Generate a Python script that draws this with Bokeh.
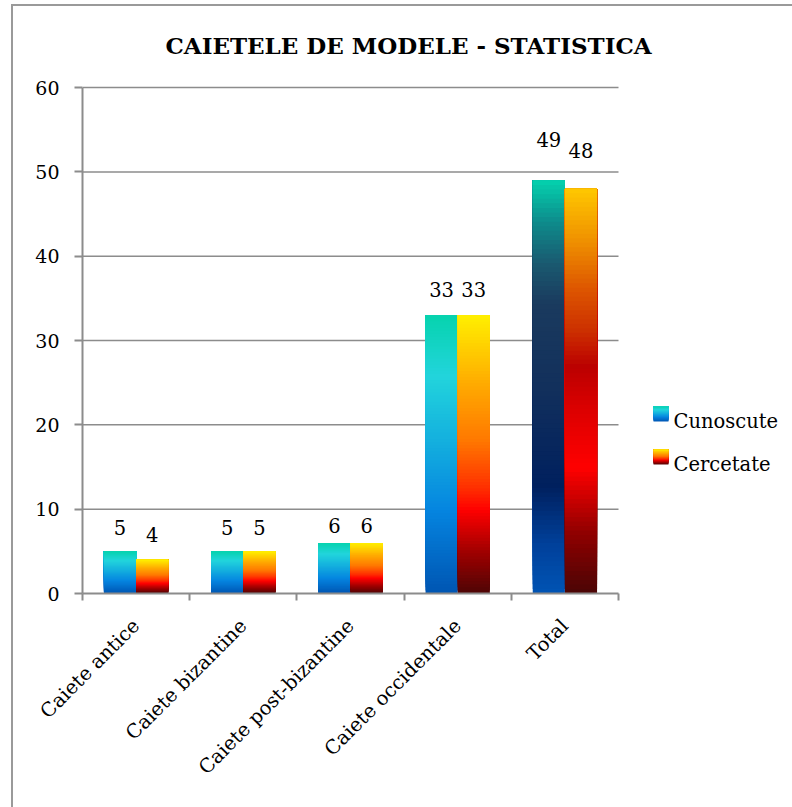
import math
from bokeh.plotting import figure
from bokeh.models import Range1d, FixedTicker, ColumnDataSource
from bokeh.embed import file_html
from bokeh.resources import INLINE
from bokeh.core.properties import value

# ---------------- data ----------------
categories = ["Caiete antice", "Caiete bizantine", "Caiete post-bizantine",
              "Caiete occidentale", "Total"]
cunoscute = [5, 5, 6, 33, 49]
cercetate = [4, 5, 6, 33, 48]
series_names = ["Cunoscute", "Cercetate"]
y_ticks = [0, 10, 20, 30, 40, 50, 60]
title_text = "CAIETELE DE MODELE - STATISTICA"

# ---------------- styles ----------------
FONT = "DejaVu Serif"
AXIS_COLOR = "#8c8c8c"
GRAD_CUN = [(0.0, "#0055b2"), (0.3, "#0585e0"), (0.55, "#14b0de"),
            (0.78, "#22d4dc"), (1.0, "#06d3ae")]
GRAD_CUN_TOTAL = [(0.0, "#0054b4"), (0.12, "#00409a"), (0.26, "#00205e"),
                  (0.5, "#12305c"), (0.7, "#1a3a5e"), (0.8, "#1a5a70"),
                  (0.9, "#0d8c8c"), (1.0, "#04d2ae")]
GRAD_CER = [(0.0, "#4e0505"), (0.15, "#a00000"), (0.3, "#ff0000"),
            (0.38, "#ff3000"), (0.55, "#ff7800"), (0.75, "#ffaa00"),
            (1.0, "#fff000")]
GRAD_CER_TOTAL = [(0.0, "#4a0505"), (0.15, "#900000"), (0.31, "#ff0000"),
                  (0.45, "#dd0000"), (0.56, "#bb0000"), (0.65, "#cc3000"),
                  (0.75, "#dd5500"), (0.87, "#ef9000"), (1.0, "#ffc800")]
cun_grads = [GRAD_CUN] * 4 + [GRAD_CUN_TOTAL]
cer_grads = [GRAD_CER] * 4 + [GRAD_CER_TOTAL]
cun_label_gap = [24, 24, 17, 26, 41]   # px offset of label above bar top
cer_label_gap = [25, 24, 17, 26, 38]

# ---------------- layout (px) ----------------
W, H = 792, 807
B_LEFT, B_RIGHT, B_TOP, B_BOTTOM = 82, 2, 85, 214
FRAME_W = W - B_LEFT - B_RIGHT
FRAME_H = H - B_TOP - B_BOTTOM
CAT_PX = 107.2
Y_MAX = 60.25
X_MAX = FRAME_W / CAT_PX
PX_PER_Y = FRAME_H / Y_MAX


def hex_rgb(h):
    h = h.lstrip("#")
    return tuple(int(h[i:i + 2], 16) for i in (0, 2, 4))


def grad_color(stops, f):
    for (f0, c0), (f1, c1) in zip(stops[:-1], stops[1:]):
        if f0 <= f <= f1:
            t = 0 if f1 == f0 else (f - f0) / (f1 - f0)
            a, b = hex_rgb(c0), hex_rgb(c1)
            return "#%02x%02x%02x" % tuple(round(a[k] + (b[k] - a[k]) * t) for k in range(3))
    return stops[-1][1]


p = figure(width=W, height=H, output_backend="svg", toolbar_location=None,
           x_range=Range1d(0, X_MAX), y_range=Range1d(0, Y_MAX),
           min_border_left=B_LEFT, min_border_right=B_RIGHT,
           min_border_top=B_TOP, min_border_bottom=B_BOTTOM)
p.outline_line_color = None
p.xgrid.visible = False
p.ygrid.visible = False
p.background_fill_color = "white"
p.border_fill_color = None
# outer chart border: left and top edges (the rest lies outside the picture)
p.styles = {"box-shadow": "inset 0 4px 0 0 white, inset 11px 0 0 0 white, "
                          "inset 0 6px 0 0 #9a9a9a, inset 13px 0 0 0 #9a9a9a"}

# title
p.title.text = title_text
p.title.text_font = FONT
p.title.text_font_style = "bold"
p.title.text_font_size = "23px"
p.title.text_color = "black"
p.title.align = "left"
p.title.vertical_align = "top"
p.title.offset = 83
p.title.standoff = 50

# gridlines (drawn only over the category area)
gy = [t for t in y_ticks if t > 0]
p.segment(x0=[0] * len(gy), x1=[len(categories)] * len(gy), y0=gy, y1=gy,
          line_color=AXIS_COLOR, line_width=1.5)

# gradient bars: overlapping slices (each reaches the bar top) -> no seams
N = 90
BAR_W = 0.3
GAP = (1 - 2 * BAR_W) / 2
series_vals = [cunoscute, cercetate]
series_grads = [cun_grads, cer_grads]
series_gaps = [cun_label_gap, cer_label_gap]
L, R, Bo, T, C = [], [], [], [], []
lx, ly, lt, lo = [], [], [], []
for s, vals in enumerate(series_vals):
    for i, v in enumerate(vals):
        left = i + GAP + s * BAR_W
        for j in range(N):
            L.append(left)
            R.append(left + BAR_W)
            Bo.append(v * j / N)
            T.append(v)
            C.append(grad_color(series_grads[s][i], (j + 0.5) / N))
        lx.append(left + BAR_W / 2)
        ly.append(v)
        lt.append(str(v))
        lo.append(-series_gaps[s][i])
p.quad(left=L, right=R, bottom=Bo, top=T, fill_color=C, line_color=None)

src = ColumnDataSource(dict(x=lx, y=ly, t=lt, o=lo))
p.text(x="x", y="y", text="t", y_offset="o", source=src, text_align="center",
       text_baseline="alphabetic", text_font=value(FONT),
       text_font_size="19.5px", text_color="black")


# custom legend with gradient swatches
def px_x(px):
    return (px - B_LEFT) / CAT_PX


def px_y(py):
    return (H - B_BOTTOM - py) / PX_PER_Y


leg_bottoms = [421, 464]
leg_grads = [GRAD_CUN, GRAD_CER]
SW = 15
NL = 20
LQ = dict(l=[], r=[], b=[], t=[], c=[])
for k, name in enumerate(series_names):
    bot = leg_bottoms[k]
    for j in range(NL):
        LQ["l"].append(px_x(653))
        LQ["r"].append(px_x(653 + SW))
        LQ["b"].append(px_y(bot - SW * j / NL))
        LQ["t"].append(px_y(bot - SW))
        LQ["c"].append(grad_color(leg_grads[k], (j + 0.5) / NL))
p.quad(left=LQ["l"], right=LQ["r"], bottom=LQ["b"], top=LQ["t"],
       fill_color=LQ["c"], line_color=None)
p.text(x=[px_x(673)] * 2, y=[px_y(b) for b in leg_bottoms], text=series_names,
       text_align="left", text_baseline="alphabetic", text_font=value(FONT),
       text_font_size="19.5px", text_color="black")

# axes
xa = p.xaxis[0]
xa.ticker = FixedTicker(ticks=[i + 0.5 for i in range(len(categories))],
                        minor_ticks=list(range(len(categories) + 1)))
xa.major_label_overrides = {i + 0.5: c for i, c in enumerate(categories)}
xa.bounds = (0, len(categories))
xa.major_tick_line_color = None
xa.major_tick_out = 0
xa.minor_tick_in = 0
xa.minor_tick_out = 7
xa.minor_tick_line_color = AXIS_COLOR
xa.minor_tick_line_width = 2
xa.axis_line_color = AXIS_COLOR
xa.axis_line_width = 2
xa.major_label_orientation = math.pi / 4
xa.major_label_standoff = 22
xa.major_label_text_font = FONT
xa.major_label_text_font_size = "19.5px"
xa.major_label_text_color = "black"

ya = p.yaxis[0]
ya.ticker = FixedTicker(ticks=y_ticks, minor_ticks=[])
ya.bounds = (0, 60)
ya.major_tick_in = 0
ya.major_tick_out = 8
ya.major_tick_line_color = AXIS_COLOR
ya.major_tick_line_width = 2
ya.axis_line_color = AXIS_COLOR
ya.axis_line_width = 2
ya.major_label_standoff = 15
ya.major_label_text_font = FONT
ya.major_label_text_font_size = "19px"
ya.major_label_text_color = "black"

open("out.html", "w").write(file_html(p, INLINE))
